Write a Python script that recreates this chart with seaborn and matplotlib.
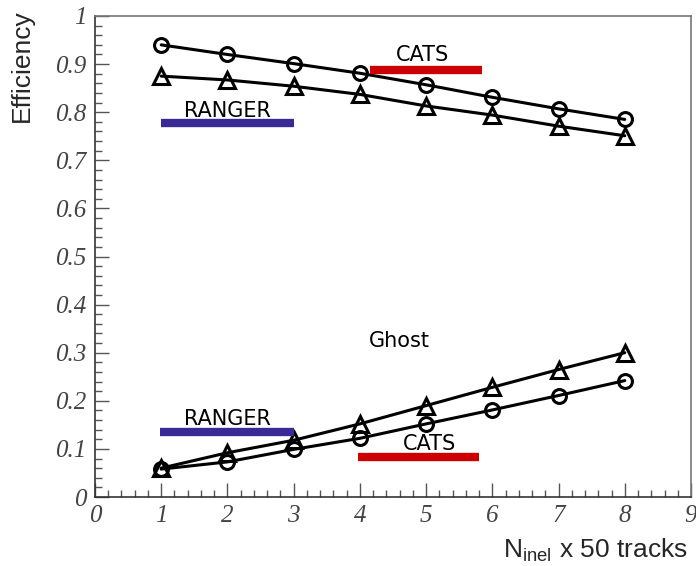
import matplotlib
matplotlib.use("Agg")
import matplotlib.pyplot as plt
import seaborn as sns
import pandas as pd
from matplotlib.ticker import MultipleLocator

sns.set_style("white")

# ---- data ----
n_inel = [1, 2, 3, 4, 5, 6, 7, 8]
eff_cats = [0.940, 0.920, 0.901, 0.881, 0.857, 0.831, 0.807, 0.785]
eff_ranger = [0.875, 0.867, 0.854, 0.837, 0.813, 0.794, 0.771, 0.751]
ghost_ranger = [0.060, 0.092, 0.118, 0.152, 0.190, 0.228, 0.265, 0.300]
ghost_cats = [0.058, 0.073, 0.099, 0.122, 0.152, 0.181, 0.211, 0.242]

# legend-like bars: (x_start, x_end, y, colour, label, label_x, label_y)
bar_specs = [
    (1.0, 3.0, 0.777, "#3a2a95", "RANGER", 2.0, 0.803),
    (4.15, 5.85, 0.888, "#cc0000", "CATS", 4.95, 0.918),
    (0.98, 3.0, 0.136, "#3a2a95", "RANGER", 2.0, 0.163),
    (3.97, 5.8, 0.083, "#cc0000", "CATS", 5.05, 0.110),
]
ghost_label = ("Ghost", 4.6, 0.325)

x_ticks = list(range(0, 10))
y_ticks = [0, 0.1, 0.2, 0.3, 0.4, 0.5, 0.6, 0.7, 0.8, 0.9, 1]
y_tick_labels = ["0", "0.1", "0.2", "0.3", "0.4", "0.5", "0.6", "0.7", "0.8", "0.9", "1"]

df = pd.DataFrame({
    "x": n_inel * 4,
    "y": eff_cats + eff_ranger + ghost_ranger + ghost_cats,
    "series": ["eff_cats"] * 8 + ["eff_ranger"] * 8 + ["ghost_ranger"] * 8 + ["ghost_cats"] * 8,
})
markers = {"eff_cats": "o", "eff_ranger": "^", "ghost_ranger": "^", "ghost_cats": "o"}

fig = plt.figure(figsize=(6.96, 5.66), dpi=100)
ax = fig.add_axes([95 / 696, 1 - 497 / 566, (691 - 95) / 696, (497 - 16) / 566])

for name, sub in df.groupby("series", sort=False):
    sns.lineplot(data=sub, x="x", y="y", ax=ax, color="black", linewidth=2.2,
                 marker=markers[name], markersize=11 if markers[name] == "^" else 10,
                 markerfacecolor="none", markeredgecolor="black",
                 markeredgewidth=2.2, legend=False)

for x0, x1, y, c, lab, lx, ly in bar_specs:
    ax.hlines(y, x0, x1, color=c, linewidth=6, zorder=3)
    ax.text(lx, ly, lab, ha="center", va="center", fontsize=15,
            family="DejaVu Sans", color="black")
ax.text(ghost_label[1], ghost_label[2], ghost_label[0], ha="center", va="center",
        fontsize=15, family="DejaVu Sans", color="black")

ax.set_xlim(0, 9)
ax.set_ylim(0, 1)
ax.set_xticks(x_ticks)
ax.set_xticklabels([str(t) for t in x_ticks])
ax.set_yticks(y_ticks)
ax.set_yticklabels(y_tick_labels)
ax.xaxis.set_minor_locator(MultipleLocator(0.2))
ax.yaxis.set_minor_locator(MultipleLocator(0.02))
ax.tick_params(axis="both", which="major", direction="in", length=10, width=1,
               color="#555555", labelsize=18, labelcolor="#444444", pad=6,
               bottom=True, left=True, top=False, right=False)
ax.tick_params(axis="both", which="minor", direction="in", length=5, width=1,
               color="#555555", bottom=True, left=True, top=False, right=False)
for lbl in ax.get_xticklabels() + ax.get_yticklabels():
    lbl.set_family("Liberation Serif")
    lbl.set_style("italic")

for s in ax.spines.values():
    s.set_color("#777777")
    s.set_linewidth(1.2)
ax.spines["left"].set_color("#333333")
ax.spines["bottom"].set_color("#333333")

ax.set_xlabel("")
ax.set_ylabel("")
fig.text(22 / 696, 1 - 66 / 566, "Efficiency", rotation=90, ha="center", va="center",
         fontsize=19, family="Liberation Sans")
fig.text(688 / 696, 1 - 550 / 566, r"N$_{\mathregular{inel}}$ x 50 tracks", ha="right",
         va="center", fontsize=19, family="Liberation Sans")

fig.savefig("out.png", dpi=100)
